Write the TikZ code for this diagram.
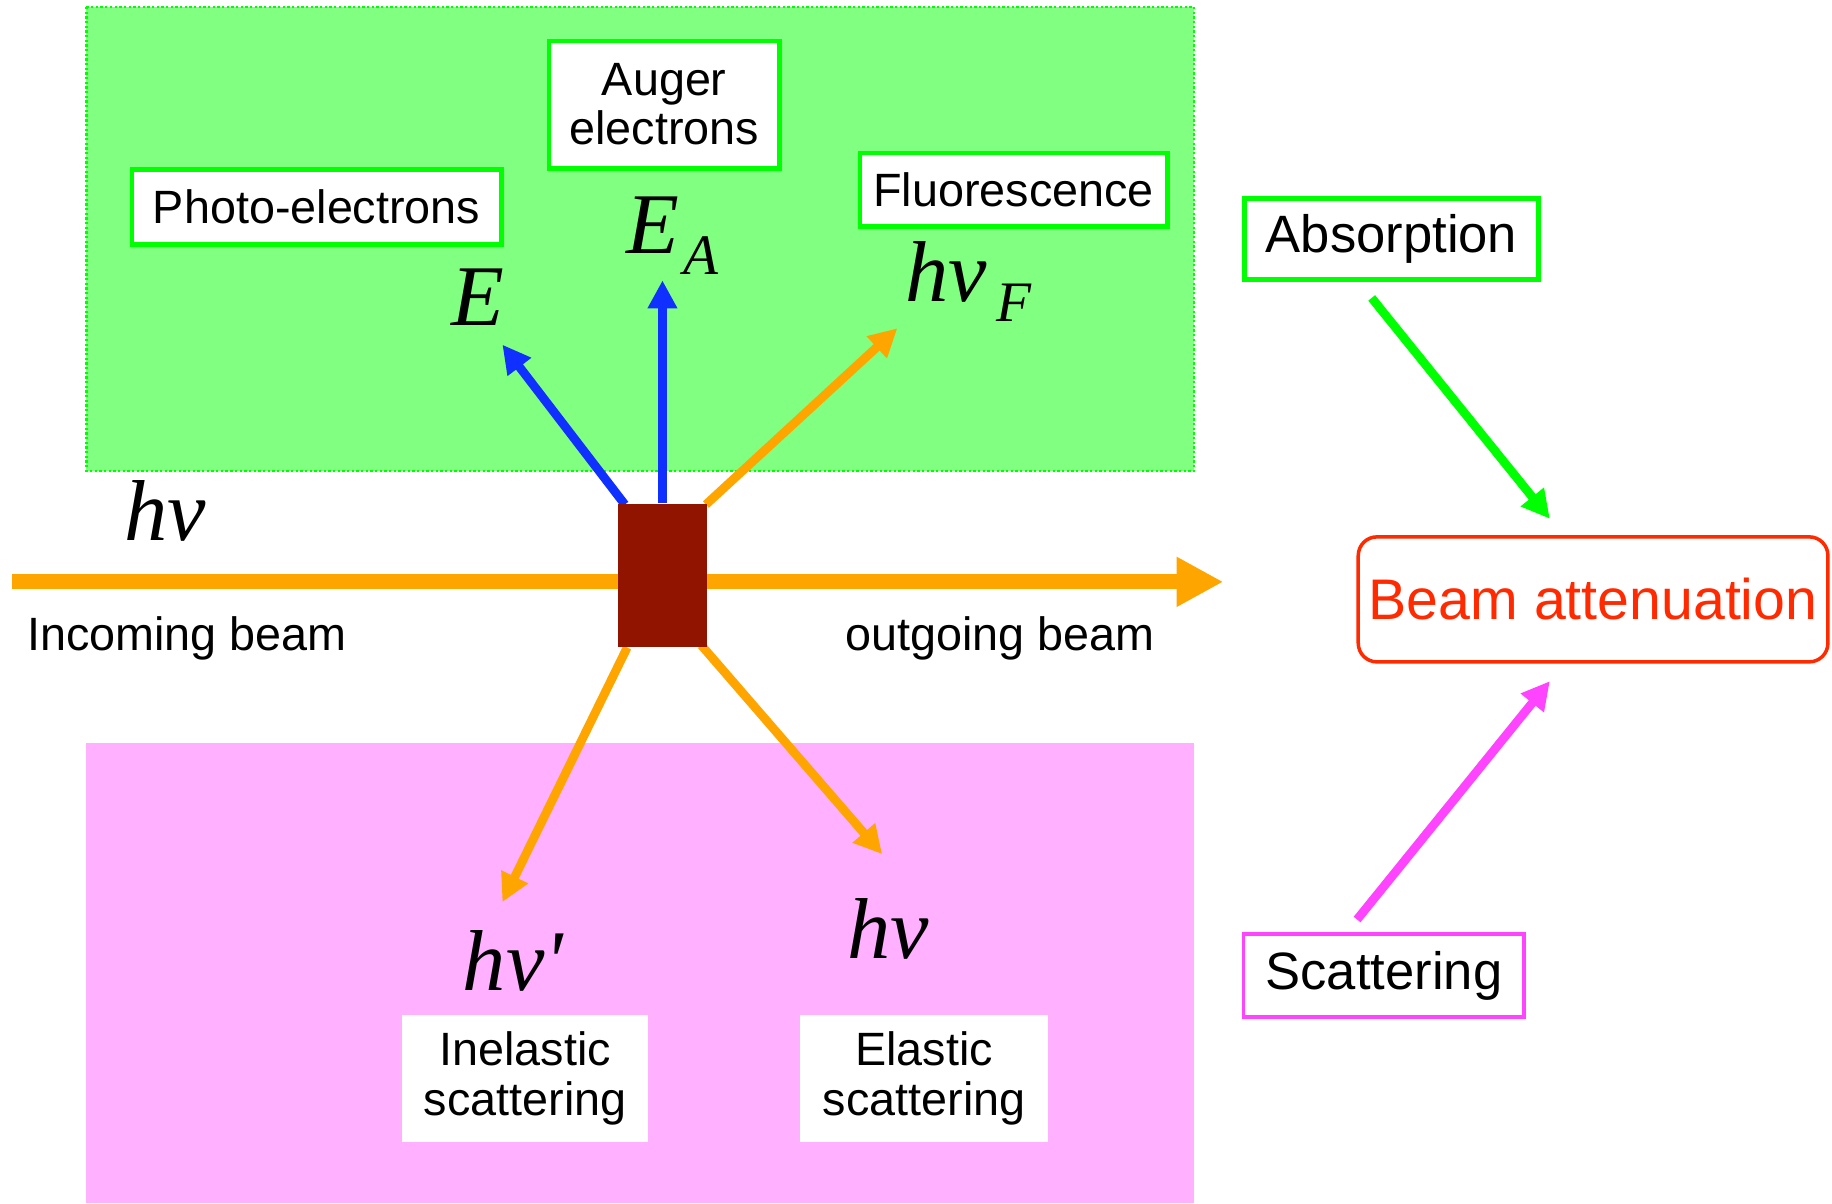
\documentclass[tikz,border=0pt]{standalone}
\usepackage{fontspec}
\setmainfont{Liberation Sans}
\newfontfamily\mserif{Liberation Serif}
\usetikzlibrary{arrows.meta,calc}
\definecolor{lgreen}{HTML}{80FF80}
\definecolor{bgreen}{HTML}{00FF00}
\definecolor{lpink}{HTML}{FFB0FF}
\definecolor{orng}{HTML}{FFA500}
\definecolor{eblue}{HTML}{1030FF}
\definecolor{samplecol}{HTML}{901400}
\definecolor{attred}{HTML}{FF2A00}
\definecolor{magc}{HTML}{FF44FF}
\pgfdeclarelayer{background}
\pgfsetlayers{background,main}
\begin{document}
\begin{tikzpicture}[x=1pt,y=-1pt,
  lbl/.style={font=\fontsize{40}{42}\selectfont, inner sep=0pt, align=center},
  gbox/.style={lbl, draw=bgreen, line width=4pt, fill=white},
  wbox/.style={lbl, fill=white},
  mlbl/.style={font=\mserif\itshape\fontsize{74}{74}\selectfont, inner sep=0pt, anchor=base west},
  sub/.style={font=\mserif\itshape\fontsize{49}{49}\selectfont, inner sep=0pt, anchor=base west},
  earrow/.style={line width=7.5pt, -{Triangle[length=24pt,width=24pt]}},
]
\useasboundingbox (0,0) rectangle (1568,1030);

% regions
\begin{pgfonlayer}{background}
\fill[white] (0,0) rectangle (1568,1030);
\fill[lgreen] (74,6) rectangle (1022,403);
\draw[bgreen, line width=2pt, dash pattern=on 2pt off 2pt] (74,6) rectangle (1022,403);
\fill[lpink] (74,636) rectangle (1022,1030);
\end{pgfonlayer}

% sample
\node[fill=samplecol, minimum width=76pt, minimum height=123pt, inner sep=0pt] (s) at (567,492.5) {};

% boxes
\node[gbox, minimum width=316pt, minimum height=64pt] (pe) at (271,177) {Photo-electrons};
\node[gbox, minimum width=197pt, minimum height=109pt] (au) at (568.5,89.5) {Auger\\electrons};
\node[gbox, minimum width=263pt, minimum height=63pt] (fl) at (867.5,162.5) {Fluorescence};
\node[gbox, font=\fontsize{45}{47}\selectfont, minimum width=252pt, minimum height=69pt] (ab) at (1191,204.5) {Absorption};
\node[lbl, font=\fontsize{45}{47}\selectfont, draw=magc, line width=3pt, fill=white, minimum width=240pt, minimum height=71pt] (sc) at (1184.5,835) {Scattering};
\node[lbl, font=\fontsize{49}{51}\selectfont, text=attred, draw=attred, line width=3pt, rounded corners=16pt, fill=white, minimum width=402pt, minimum height=107pt] (att) at (1363.5,513) {Beam attenuation};
\node[wbox, minimum width=211pt, minimum height=108pt] (inel) at (449.5,923) {Inelastic\\scattering};
\node[wbox, minimum width=212pt, minimum height=108pt] (el) at (791,923) {Elastic\\scattering};

% beam labels
\node[lbl] (inb) at (160,546) {Incoming beam};
\node[lbl] (outb) at (856,546) {outgoing beam};

% math labels
\node[mlbl] (hv0) at (106,463) {h\char"03BD};
\node[mlbl] (E) at (386,279) {E};
\node[mlbl] (EA) at (536,217) {E};
\node[sub] (EAs) at (585,235) {A};
\node[mlbl] (hvF) at (775,258) {h\char"03BD};
\node[sub] (hvFs) at (853,275) {F};
\node[mlbl] (hvp) at (396,848) {h\char"03BD\char"0027};
\node[mlbl] (hve) at (725,820) {h\char"03BD};

% free ends
\coordinate (bin) at (10,498);
\coordinate (bout) at (1047,498);
\coordinate (tE) at (430,295);
\coordinate (tEA) at (567,240);
\coordinate (tF) at (768,281);
\coordinate (tin) at (430,772);
\coordinate (tel) at (755,731);

\begin{pgfonlayer}{background}
\draw[orng, line width=13pt, -{Triangle[length=40pt,width=40pt]}] (bin) -- (bout);
\draw[eblue, earrow] ($(s.north west)+(6,1)$) -- (tE);
\draw[eblue, earrow] (s.north) -- (tEA);
\draw[orng, earrow] ($(s.north east)+(-1,1)$) -- (tF);
\draw[orng, earrow] ($(s.south west)+(8,0)$) -- (tin);
\draw[orng, earrow] ($(s.south east)+(-5,-2)$) -- (tel);
\end{pgfonlayer}

% attenuation arrows
\draw[bgreen, earrow] ($(ab.south)+(-17,14)$) -- ($(att.north)+(-37,-14)$);
\draw[magc, earrow] ($(sc.north)+(-23,-11)$) -- ($(att.south)+(-37,15)$);
\end{tikzpicture}
\end{document}
